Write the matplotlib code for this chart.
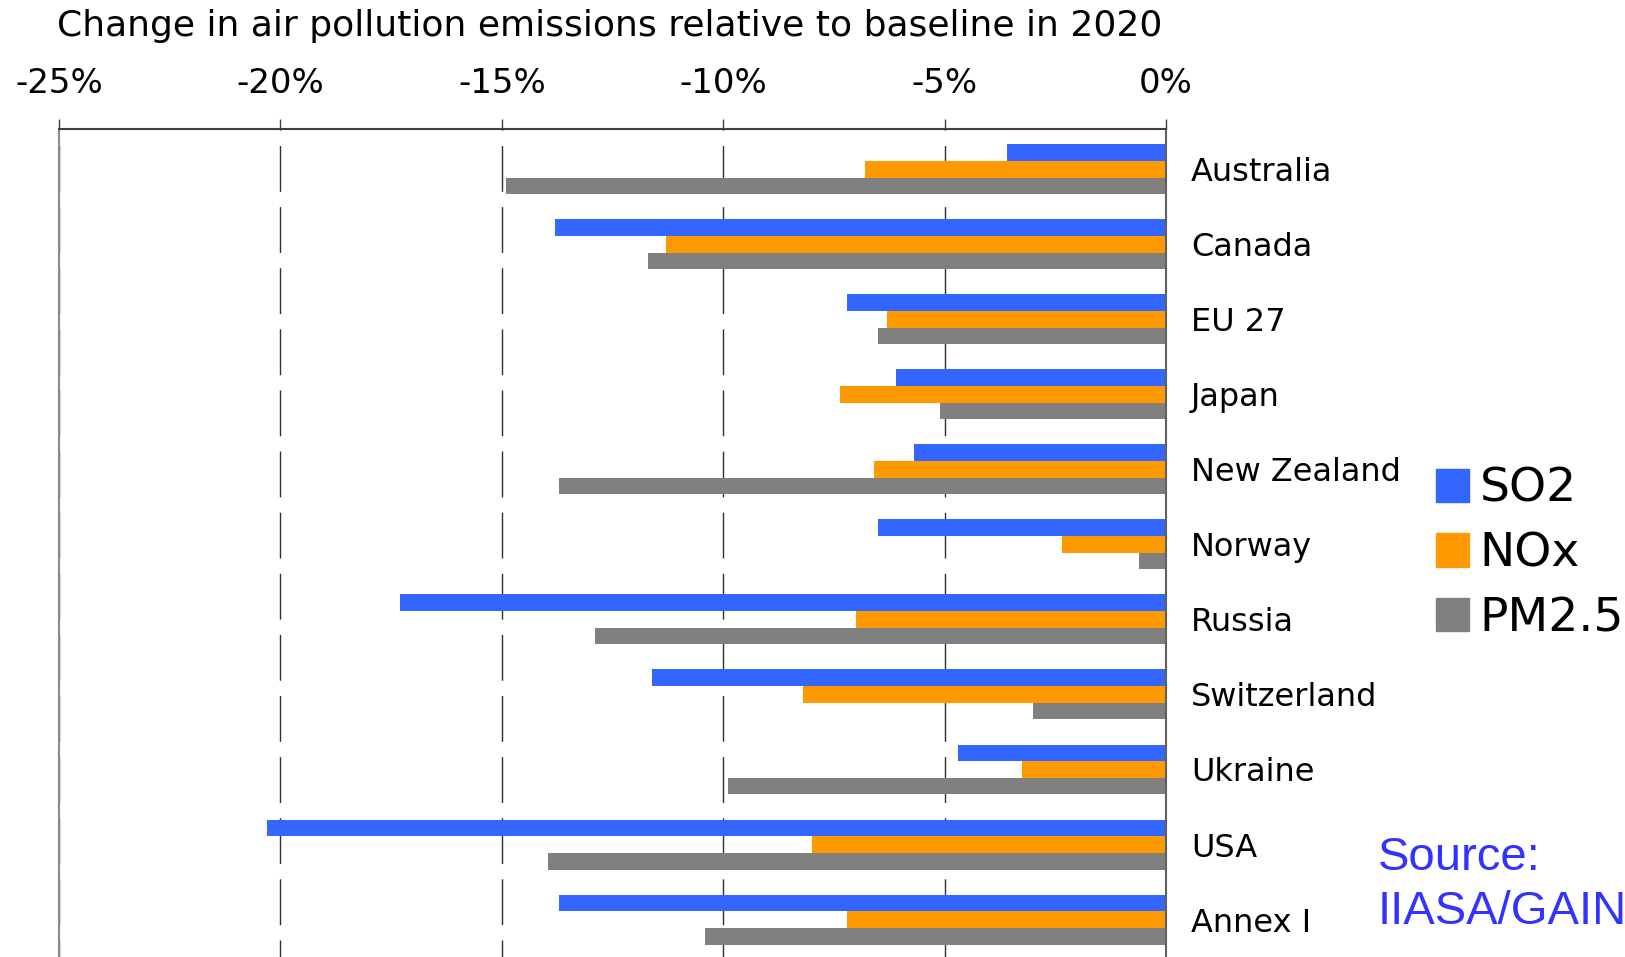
import numpy as np
import matplotlib
matplotlib.use('Agg')
import matplotlib.pyplot as plt
from matplotlib.patches import Patch

# data (percent change vs baseline, 2020)
countries = ['Australia', 'Canada', 'EU 27', 'Japan', 'New Zealand', 'Norway',
             'Russia', 'Switzerland', 'Ukraine', 'USA', 'Annex I']
so2 = [-3.6, -13.8, -7.2, -6.1, -5.7, -6.5, -17.3, -11.6, -4.7, -20.3, -13.7]
nox = [-6.8, -11.3, -6.3, -7.35, -6.6, -2.35, -7.0, -8.2, -3.25, -8.0, -7.2]
pm25 = [-14.9, -11.7, -6.5, -5.1, -13.7, -0.6, -12.9, -3.0, -9.9, -13.95, -10.4]
xticks = [-25, -20, -15, -10, -5, 0]
xticklabels = ['-25%', '-20%', '-15%', '-10%', '-5%', '0%']

plt.rcParams['font.family'] = 'DejaVu Sans'

fig = plt.figure(figsize=(16.25, 9.57), dpi=100)
ax = fig.add_axes([0.0363, -0.004, 0.6812, 0.8687])

y = np.arange(len(countries))
h = 0.222
ax.barh(y - h, so2, height=h, color='#3366FF', label='SO2')
ax.barh(y, nox, height=h, color='#FF9900', label='NOx')
ax.barh(y + h, pm25, height=h, color='#808080', label='PM2.5')

ax.set_xlim(-25, 0)
ax.set_ylim(10.55, -0.53)

# axis on top, country names on the right
ax.xaxis.tick_top()
ax.set_xticks(xticks)
ax.set_xticklabels(xticklabels, fontsize=24.5)
ax.tick_params(axis='x', direction='out', length=7, width=1, color='#404040', pad=14)
ax.yaxis.tick_right()
ax.set_yticks(y)
ax.set_yticklabels(countries, fontsize=23)
ax.tick_params(axis='y', length=0, pad=18)

ax.set_axisbelow(True)
ax.grid(axis='x', color='#303030', lw=1, linestyle=(20, (33, 11)))
ax.grid(axis='y', visible=False)

ax.spines['bottom'].set_visible(False)
ax.spines['top'].set_color('#404040')
ax.spines['top'].set_linewidth(1.5)
ax.spines['left'].set_color('#8a8a8a')
ax.spines['left'].set_linewidth(1.5)
ax.spines['right'].set_color('#606060')
ax.spines['right'].set_linewidth(1.5)

fig.text(57/1625, 1 - 26/957, 'Change in air pollution emissions relative to baseline in 2020',
         fontsize=26, va='center', ha='left')

handles = [Patch(color='#3366FF', label='SO2'),
           Patch(color='#FF9900', label='NOx'),
           Patch(color='#808080', label='PM2.5')]
fig.legend(handles=handles, loc='center left', bbox_to_anchor=(1436/1625, 1 - 554/957),
           frameon=False, fontsize=34, handlelength=0.70, handleheight=0.70,
           handletextpad=0.22, labelspacing=0.42, borderaxespad=0, borderpad=0)

fig.text(1378/1625, 1 - 858/957, 'Source:', fontsize=34, color='#3333FF',
         family='Liberation Sans', va='center', ha='left')
fig.text(1378/1625, 1 - 912/957, 'IIASA/GAIN', fontsize=34, color='#3333FF',
         family='Liberation Sans', va='center', ha='left')

fig.savefig('out.png', dpi=100)
